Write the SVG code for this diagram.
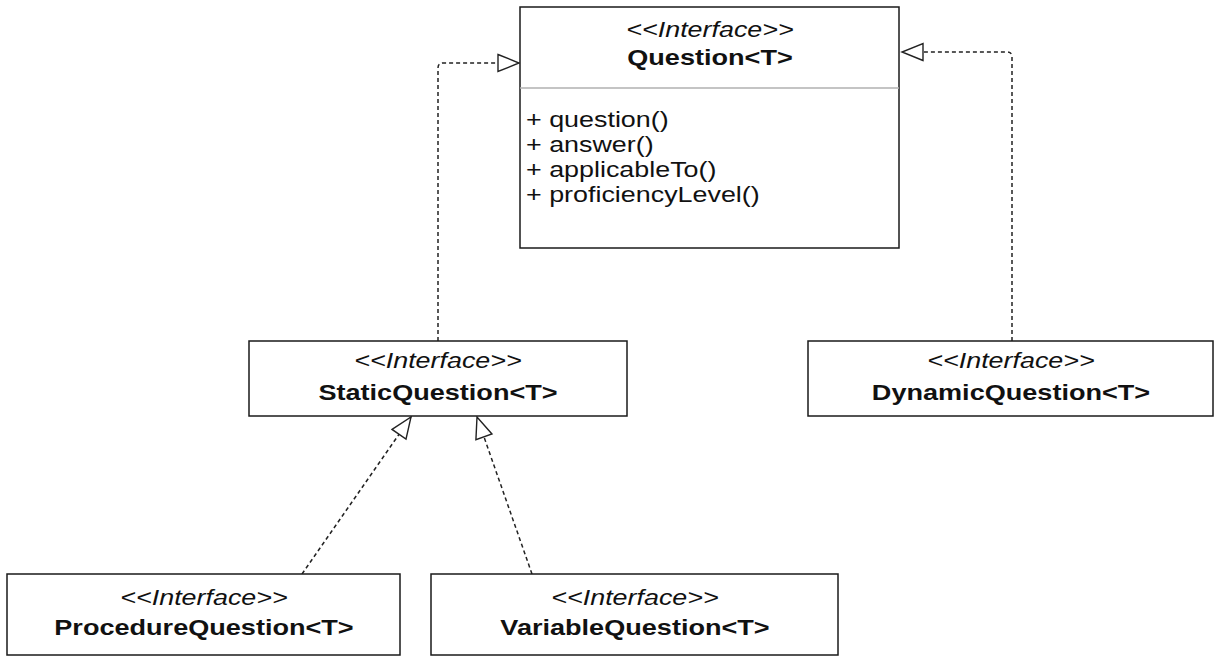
<svg xmlns="http://www.w3.org/2000/svg" width="1214" height="657" viewBox="0 0 1214 657">
  <style>
    .box { fill: #ffffff; stroke: #1a1a1a; stroke-width: 1.5; }
    .divider { stroke: #b0b0b0; stroke-width: 1.5; }
    .stereo { font-family: "Liberation Sans", Arial, sans-serif; font-size: 21.5px; font-style: italic; fill: #111; text-anchor: middle; }
    .name { font-family: "Liberation Sans", Arial, sans-serif; font-size: 21.5px; font-weight: bold; fill: #111; text-anchor: middle; }
    .member { font-family: "Liberation Sans", Arial, sans-serif; font-size: 21.5px; fill: #111; }
    .realize { fill: none; stroke: #222; stroke-width: 1.5; stroke-dasharray: 4 3; marker-end: url(#hollowTri); }
  </style>
  <defs>
    <marker id="hollowTri" markerWidth="26" markerHeight="22" refX="23" refY="10" orient="auto" markerUnits="userSpaceOnUse">
      <path d="M2,1.5 L23,10 L2,18.5 Z" fill="#ffffff" stroke="#222" stroke-width="1.4"/>
    </marker>
  </defs>

  <rect width="1214" height="657" fill="#ffffff"/>

  <!-- realization connectors -->
  <g id="connectors">
    <path class="realize" d="M438,341 V68 Q438,63 443,63 H519"/>
    <path class="realize" d="M1012,341 V57 Q1012,52 1007,52 H902"/>
    <path class="realize" d="M302,574 L411,417"/>
    <path class="realize" d="M532,574 L477,417"/>
  </g>

  <g id="question">
    <rect class="box" x="520" y="7" width="379" height="241"/>
    <line class="divider" x1="520" y1="88" x2="899" y2="88"/>
    <text class="stereo" transform="translate(710 37) scale(1.25 1)">&lt;&lt;Interface&gt;&gt;</text>
    <text class="name" transform="translate(710 65) scale(1.26 1)">Question&lt;T&gt;</text>
    <text class="member" transform="translate(526 127) scale(1.25 1)">+ question()</text>
    <text class="member" transform="translate(526 152) scale(1.25 1)">+ answer()</text>
    <text class="member" transform="translate(526 177) scale(1.25 1)">+ applicableTo()</text>
    <text class="member" transform="translate(526 202) scale(1.25 1)">+ proficiencyLevel()</text>
  </g>

  <g id="staticQuestion">
    <rect class="box" x="249" y="341" width="378" height="75"/>
    <text class="stereo" transform="translate(438 368) scale(1.25 1)">&lt;&lt;Interface&gt;&gt;</text>
    <text class="name" transform="translate(438 400) scale(1.26 1)">StaticQuestion&lt;T&gt;</text>
  </g>

  <g id="dynamicQuestion">
    <rect class="box" x="808" y="341" width="405" height="75"/>
    <text class="stereo" transform="translate(1011 368) scale(1.25 1)">&lt;&lt;Interface&gt;&gt;</text>
    <text class="name" transform="translate(1011 400) scale(1.26 1)">DynamicQuestion&lt;T&gt;</text>
  </g>

  <g id="procedureQuestion">
    <rect class="box" x="7" y="574" width="393" height="81"/>
    <text class="stereo" transform="translate(204 605) scale(1.25 1)">&lt;&lt;Interface&gt;&gt;</text>
    <text class="name" transform="translate(204 635) scale(1.26 1)">ProcedureQuestion&lt;T&gt;</text>
  </g>

  <g id="variableQuestion">
    <rect class="box" x="431" y="574" width="407" height="81"/>
    <text class="stereo" transform="translate(635 605) scale(1.25 1)">&lt;&lt;Interface&gt;&gt;</text>
    <text class="name" transform="translate(635 635) scale(1.26 1)">VariableQuestion&lt;T&gt;</text>
  </g>
</svg>
